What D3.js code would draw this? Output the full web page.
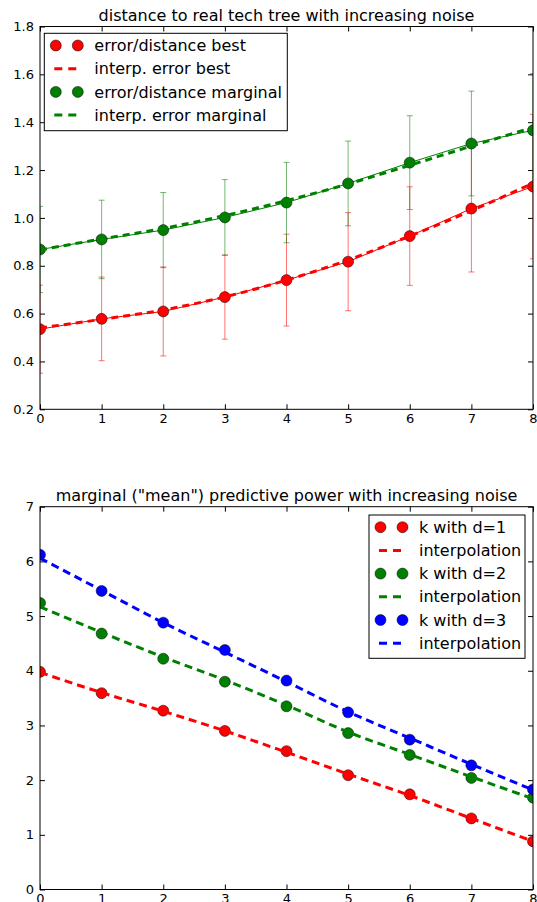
<!DOCTYPE html>
<html>
<head>
<meta charset="utf-8">
<script src="https://cdn.jsdelivr.net/npm/d3@7/dist/d3.min.js"></script>
<style>
    body { margin: 0; background: #fff; }
    text { font-family: "DejaVu Sans", sans-serif; fill: #000; }
</style>
</head>
<body>
<div class="graph"></div>
<script>
(function() {
    // noise levels shared by both panels
    var noise = [0, 1, 2, 3, 4, 5, 6, 7, 8];

    // top panel: distance to the real tech tree
    var bestMean = [0.535, 0.578, 0.609, 0.669, 0.740, 0.817, 0.924, 1.039, 1.131];
    var bestErr = [0.184, 0.175, 0.186, 0.176, 0.192, 0.205, 0.206, 0.265, 0.302];
    var bestInterp = [0.540, 0.576, 0.615, 0.670, 0.740, 0.824, 0.924, 1.030, 1.145];
    var margMean = [0.868, 0.910, 0.949, 1.002, 1.064, 1.144, 1.231, 1.311, 1.366];
    var margErr = [0.180, 0.164, 0.157, 0.158, 0.168, 0.177, 0.196, 0.219, 0.237];
    var margInterp = [0.866, 0.912, 0.956, 1.010, 1.072, 1.142, 1.220, 1.300, 1.378];
    var topYTicks = [0.2, 0.4, 0.6, 0.8, 1.0, 1.2, 1.4, 1.6, 1.8];
    var topLegend = ["error/distance best", "interp. error best",
                     "error/distance marginal", "interp. error marginal"];

    // bottom panel: marginal predictive power
    var kD1 = [3.98, 3.59, 3.27, 2.90, 2.53, 2.09, 1.74, 1.30, 0.88];
    var kD2 = [5.24, 4.68, 4.22, 3.80, 3.35, 2.86, 2.46, 2.04, 1.68];
    var kD3 = [6.12, 5.46, 4.88, 4.38, 3.82, 3.24, 2.74, 2.27, 1.83];
    var interpD1 = [3.97, 3.60, 3.26, 2.90, 2.51, 2.11, 1.72, 1.30, 0.88];
    var interpD2 = [5.17, 4.70, 4.25, 3.83, 3.37, 2.88, 2.47, 2.06, 1.66];
    var interpD3 = [6.06, 5.47, 4.88, 4.34, 3.80, 3.25, 2.77, 2.29, 1.82];
    var bottomYTicks = [0, 1, 2, 3, 4, 5, 6, 7];
    var bottomLegend = ["k with d=1", "interpolation", "k with d=2",
                        "interpolation", "k with d=3", "interpolation"];

    var xTicks = noise;
    var red = "#ff0000", green = "#008000", blue = "#0000ff";

    var svg = d3.select(".graph")
        .append("svg")
            .attr("width", 537)
            .attr("height", 902);

    var left = 40, right = 533;

    function panel(opts) {
        var x = d3.scaleLinear().domain([0, 8]).range([left, right]);
        var y = d3.scaleLinear().domain(opts.yDomain).range([opts.bottom, opts.top]);
        var g = svg.append("g");

        g.append("defs").append("clipPath")
            .attr("id", opts.id)
            .append("rect")
                .attr("x", left)
                .attr("y", opts.top)
                .attr("width", right - left)
                .attr("height", opts.bottom - opts.top);

        // title
        g.append("text")
            .attr("x", (left + right) / 2)
            .attr("y", opts.top - 6)
            .style("text-anchor", "middle")
            .style("font-size", "16px")
            .text(opts.title);

        // axes with inward ticks on all four sides
        g.append("g")
            .attr("transform", "translate(0," + opts.bottom + ")")
            .call(d3.axisBottom(x).tickValues(xTicks).tickSizeInner(-5).tickSizeOuter(0).tickPadding(4));
        g.append("g")
            .attr("transform", "translate(" + left + ",0)")
            .call(d3.axisLeft(y).tickValues(opts.yTicks).tickFormat(opts.yFormat)
                .tickSizeInner(-5).tickSizeOuter(0).tickPadding(6));
        g.append("g")
            .attr("transform", "translate(0," + opts.top + ")")
            .call(d3.axisTop(x).tickValues(xTicks).tickSizeInner(-5).tickSizeOuter(0).tickFormat(""));
        g.append("g")
            .attr("transform", "translate(" + right + ",0)")
            .call(d3.axisRight(y).tickValues(opts.yTicks).tickSizeInner(-5).tickSizeOuter(0).tickFormat(""));

        g.selectAll(".domain").remove();
        g.selectAll(".tick line").attr("stroke", "#000");
        g.selectAll(".tick text")
            .style("font-size", "13px")
            .style("font-family", "'DejaVu Sans', sans-serif")
            .attr("fill", "#000");

        var plot = g.append("g").attr("clip-path", "url(#" + opts.id + ")");

        return { x: x, y: y, g: g, plot: plot };
    }

    function markers(p, values, color) {
        p.plot.append("g")
            .selectAll("circle")
            .data(values)
            .enter().append("circle")
                .attr("cx", function(d, i) { return p.x(noise[i]); })
                .attr("cy", function(d) { return p.y(d); })
                .attr("r", 5.5)
                .attr("fill", color)
                .attr("stroke", "#000")
                .attr("stroke-width", 0.5);
    }

    function dashed(p, values, color, dash) {
        var line = d3.line()
            .x(function(d, i) { return p.x(noise[i]); })
            .y(function(d) { return p.y(d); })
            .curve(d3.curveMonotoneX);
        p.plot.append("path")
            .datum(values)
            .attr("d", line)
            .attr("fill", "none")
            .attr("stroke", color)
            .attr("stroke-width", 3)
            .attr("stroke-dasharray", dash);
    }

    function errorSeries(p, mean, err, color) {
        var bars = p.plot.append("g")
            .attr("stroke", color)
            .attr("stroke-opacity", 0.55)
            .attr("stroke-width", 1);
        mean.forEach(function(m, i) {
            var cx = p.x(noise[i]);
            var y0 = p.y(m - err[i]), y1 = p.y(m + err[i]);
            bars.append("line").attr("x1", cx).attr("x2", cx).attr("y1", y0).attr("y2", y1);
            bars.append("line").attr("x1", cx - 3).attr("x2", cx + 3).attr("y1", y0).attr("y2", y0);
            bars.append("line").attr("x1", cx - 3).attr("x2", cx + 3).attr("y1", y1).attr("y2", y1);
        });

        var line = d3.line()
            .x(function(d, i) { return p.x(noise[i]); })
            .y(function(d) { return p.y(d); });
        p.plot.append("path")
            .datum(mean)
            .attr("d", line)
            .attr("fill", "none")
            .attr("stroke", color)
            .attr("stroke-width", 1);
    }

    function legend(p, box, labels, kinds, colors) {
        var lg = p.g.append("g");
        lg.append("rect")
            .attr("x", box.x)
            .attr("y", box.y)
            .attr("width", box.w)
            .attr("height", box.h)
            .attr("fill", "#fff")
            .attr("stroke", "#000")
            .attr("stroke-width", 1);
        labels.forEach(function(label, i) {
            var cy = box.y + 12.2 + i * 23.2;
            if (kinds[i] === "marker") {
                [box.x + 11.5, box.x + 33.5].forEach(function(cx) {
                    lg.append("circle")
                        .attr("cx", cx)
                        .attr("cy", cy)
                        .attr("r", 5.5)
                        .attr("fill", colors[i])
                        .attr("stroke", "#000")
                        .attr("stroke-width", 0.5);
                });
            } else {
                lg.append("line")
                    .attr("x1", box.x + 10)
                    .attr("x2", box.x + 33)
                    .attr("y1", cy)
                    .attr("y2", cy)
                    .attr("stroke", colors[i])
                    .attr("stroke-width", 3)
                    .attr("stroke-dasharray", "8,6");
            }
            lg.append("text")
                .attr("x", box.x + 50)
                .attr("y", cy)
                .attr("dy", "0.35em")
                .style("font-size", "16px")
                .text(label);
        });
    }

    function frame(p, top, bottom) {
        p.g.append("rect")
            .attr("x", left)
            .attr("y", top)
            .attr("width", right - left)
            .attr("height", bottom - top)
            .attr("fill", "none")
            .attr("stroke", "#000")
            .attr("stroke-width", 1);
    }

    // ---- top panel
    var topP = panel({
        id: "clipTop", top: 26.5, bottom: 409.3, yDomain: [0.2, 1.8],
        yTicks: topYTicks, yFormat: d3.format(".1f"),
        title: "distance to real tech tree with increasing noise"
    });
    errorSeries(topP, bestMean, bestErr, red);
    markers(topP, bestMean, red);
    dashed(topP, bestInterp, red, "7,5");
    errorSeries(topP, margMean, margErr, green);
    markers(topP, margMean, green);
    dashed(topP, margInterp, green, "7,5");
    frame(topP, 26.5, 409.3);
    legend(topP, { x: 44.3, y: 33.3, w: 243, h: 97.4 }, topLegend,
        ["marker", "line", "marker", "line"], [red, red, green, green]);

    // ---- bottom panel
    var botP = panel({
        id: "clipBottom", top: 506.7, bottom: 889.5, yDomain: [0, 7],
        yTicks: bottomYTicks, yFormat: d3.format("d"),
        title: "marginal (\"mean\") predictive power with increasing noise"
    });
    markers(botP, kD1, red);
    dashed(botP, interpD1, red, "8,5");
    markers(botP, kD2, green);
    dashed(botP, interpD2, green, "8,5");
    markers(botP, kD3, blue);
    dashed(botP, interpD3, blue, "8,5");
    frame(botP, 506.7, 889.5);
    legend(botP, { x: 369, y: 515, w: 156, h: 143.3 }, bottomLegend,
        ["marker", "line", "marker", "line", "marker", "line"],
        [red, red, green, green, blue, blue]);
})();
</script>
</body>
</html>
